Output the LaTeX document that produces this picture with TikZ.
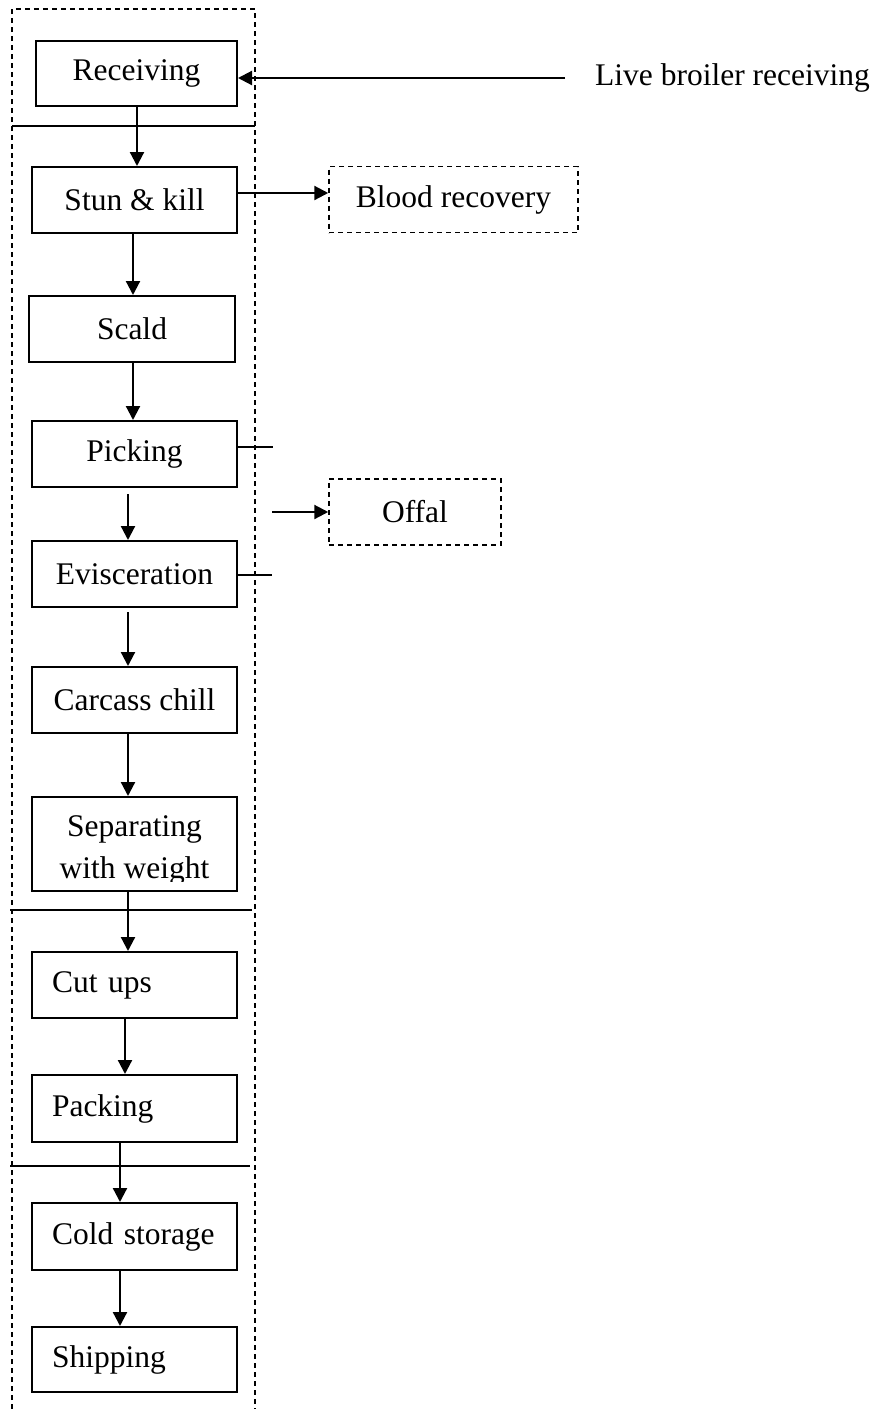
\documentclass[tikz,border=0pt]{standalone}
\usepackage{fontspec}
\setmainfont{Liberation Serif}
\usetikzlibrary{arrows.meta}
\begin{document}
\begin{tikzpicture}[x=1pt,y=-1pt,
  every node/.style={font=\fontsize{31.5}{40}\selectfont},
  stepbox/.style={draw,line width=2pt,rectangle,inner sep=0pt,minimum height=#1},
  stepbox/.default=66,
  wbox/.style={minimum width=#1},
  leftbox/.style={text width=#1,inner xsep=20pt,align=left},
  sidebox/.style={draw,rectangle,line width=1.5pt,dash pattern=on 5pt off 4pt,inner sep=0pt,minimum height=66},
  arr/.style={line width=2.2pt,-{Triangle[length=14pt,width=14pt]}},
  rule/.style={line width=1.4pt},
  zone/.style={line width=1.4pt,dash pattern=on 5pt off 4pt}]
\useasboundingbox (0,0) rectangle (877,1409);

% dashed enclosure of the plant, open at the bottom
\draw[zone] (12,1409) -- (12,9) -- (255,9) -- (255,1409);

% solid separators between the plant areas
\draw[rule] (12,126) -- (255,126);
\draw[rule] (10,910) -- (252,910);
\draw[rule] (10,1166) -- (250,1166);

% process steps
\node[stepbox=65,wbox=201] (rec) at (136.5,73.5) {Receiving};
\node[stepbox,wbox=205] (stun) at (134.5,200) {Stun \& kill};
\node[stepbox,wbox=206] (scald) at (132,329) {Scald};
\node[stepbox,wbox=205] (pick) at (134.5,454) {Picking};
\node[stepbox,wbox=205] (evis) at (134.5,574) {Evisceration};
\node[stepbox,wbox=205] (chill) at (134.5,700) {Carcass chill};
\node[stepbox=94,wbox=205] (sep) at (134.5,844) {};
\begin{scope}
  \clip (32,797) rectangle (237,881);
  \node[align=center,inner sep=0pt] (septext) at (134.5,850.5) {Separating\\[2pt]with weight};
\end{scope}
\node[stepbox,leftbox=165] (cut) at (134.5,985) {Cut ups};
\node[stepbox=67,leftbox=165] (pack) at (134.5,1108.5) {Packing};
\node[stepbox=67,leftbox=165] (cold) at (134.5,1236.5) {Cold storage};
\node[stepbox=65,leftbox=165] (ship) at (134.5,1359.5) {Shipping};

% by-products
\node[sidebox,minimum width=249] (blood) at (453.5,199.5) {Blood recovery};
\node[sidebox,minimum width=172] (offal) at (415,512) {Offal};

% incoming birds
\node[anchor=west,inner sep=0pt] (live) at (595,78) {Live broiler receiving};
\coordinate (livestart) at (565,78);
\draw[arr] (livestart) -- (rec.east |- livestart);

% main flow
\draw[arr] ([xshift=0.5pt]rec.south) -- ([xshift=2.5pt]stun.north);
\draw[arr] ([xshift=-1.5pt]stun.south) -- ([xshift=1pt]scald.north);
\draw[arr] ([xshift=1pt]scald.south) -- ([xshift=-1.5pt]pick.north);
\draw[arr] ([xshift=-6.5pt,yshift=-6pt]pick.south) -- ([xshift=-6.5pt]evis.north);
\draw[arr] ([xshift=-6.5pt,yshift=-4pt]evis.south) -- ([xshift=-6.5pt]chill.north);
\draw[arr] ([xshift=-6.5pt]chill.south) -- ([xshift=-6.5pt]sep.north);
\draw[arr] ([xshift=-6.5pt]sep.south) -- ([xshift=-6.5pt]cut.north);
\draw[arr] ([xshift=-9.5pt]cut.south) -- ([xshift=-9.5pt]pack.north);
\draw[arr] ([xshift=-14.5pt]pack.south) -- ([xshift=-14.5pt]cold.north);
\draw[arr] ([xshift=-14.5pt]cold.south) -- ([xshift=-14.5pt]ship.north);

% by-product outlets
\draw[arr] ([yshift=7pt]stun.east) -- ([yshift=6.5pt]blood.west);
\draw[rule] ([yshift=7pt]pick.east) -- ++(35,0);
\draw[rule] ([yshift=-1pt]evis.east) -- ++(34,0);
\coordinate (offalstart) at (272,512);
\draw[arr] (offalstart) -- (offal.west);
\end{tikzpicture}
\end{document}
